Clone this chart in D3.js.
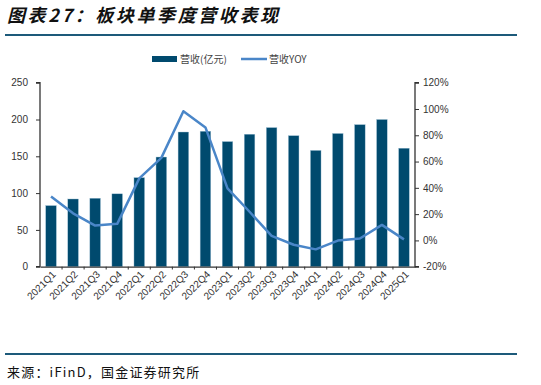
<!DOCTYPE html>
<html>
<head>
<meta charset="utf-8">
<script src="https://cdn.jsdelivr.net/npm/d3@7"></script>
<style>
  body { margin: 0; background: #fff; }
  text { font-family: "Liberation Sans", Arial, sans-serif; }
  .cjk { font-family: "Noto Sans CJK SC", sans-serif; }
</style>
</head>
<body>
<script>
// quarters on the x axis
var quarters = ['2021Q1','2021Q2','2021Q3','2021Q4','2022Q1','2022Q2','2022Q3','2022Q4',
  '2023Q1','2023Q2','2023Q3','2023Q4','2024Q1','2024Q2','2024Q3','2024Q4','2025Q1'];
// revenue, 100 million yuan
var revenue = [83, 92, 93, 99, 121, 149, 183, 184, 170, 180, 189, 178, 158, 181, 193, 200, 161];
// revenue YOY, %
var yoy = [33.5, 20.6, 11.3, 12.6, 47.2, 62.8, 98.3, 86, 39.6, 21.8, 3.5, -3.3, -6.8, -0.1, 1.5, 11.8, 0.8];
var leftTicks = [0, 50, 100, 150, 200, 250];
var rightTicks = [-20, 0, 20, 40, 60, 80, 100, 120];

var barColor = '#004a6e', lineColor = '#4a86c8', ruleColor = '#1d5a7a';

var svg = d3.select('body').append('svg')
  .attr('width', 541).attr('height', 385);

// title
svg.append('text')
  .attr('class', 'cjk')
  .attr('x', 7).attr('y', 22)
  .style('font-size', '18px').style('font-weight', 'bold').style('font-style', 'italic')
  .style('letter-spacing', '2.6px')
  .attr('fill', '#111')
  .text('图表27：板块单季度营收表现');

svg.append('line').attr('x1', 5).attr('x2', 517).attr('y1', 35).attr('y2', 35)
  .attr('stroke', ruleColor).attr('stroke-width', 2);
svg.append('line').attr('x1', 5).attr('x2', 517).attr('y1', 354).attr('y2', 354)
  .attr('stroke', ruleColor).attr('stroke-width', 2);

// source
svg.append('text')
  .attr('class', 'cjk')
  .attr('x', 7).attr('y', 377)
  .style('font-size', '13px').style('letter-spacing', '1.2px')
  .attr('fill', '#111')
  .text('来源：iFinD，国金证券研究所');

// scales
var x = d3.scaleBand().domain(quarters).range([40, 415]).paddingInner(0.52).paddingOuter(0.26);
var yL = d3.scaleLinear().domain([0, 250]).range([266.7, 82.7]);
var yR = d3.scaleLinear().domain([-20, 120]).range([266.7, 82.7]);

// bars
svg.selectAll('.bar')
  .data(revenue)
  .enter()
  .append('rect')
  .attr('class', 'bar')
  .attr('x', function(d, i){ return x(quarters[i]); })
  .attr('y', function(d){ return yL(d); })
  .attr('width', x.bandwidth())
  .attr('height', function(d){ return yL(0) - yL(d); })
  .attr('fill', barColor)
  .attr('stroke', '#9fc0d6').attr('stroke-width', 0.4);

// yoy line
var line = d3.line()
  .x(function(d, i){ return x(quarters[i]) + x.bandwidth() / 2; })
  .y(function(d){ return yR(d); });
svg.append('path')
  .datum(yoy)
  .attr('d', line)
  .attr('fill', 'none')
  .attr('stroke', lineColor)
  .attr('stroke-width', 2.5)
  .attr('stroke-linejoin', 'round');

// axes
var leftAxis = svg.append('g')
  .attr('transform', 'translate(40,0)')
  .call(d3.axisLeft(yL).tickValues(leftTicks).tickSize(4).tickPadding(8));
var rightAxis = svg.append('g')
  .attr('transform', 'translate(415,0)')
  .call(d3.axisRight(yR).tickValues(rightTicks).tickSize(4).tickPadding(4)
    .tickFormat(function(d){ return d + '%'; }));

var xAxis = svg.append('g')
  .attr('transform', 'translate(0,266.7)')
  .call(d3.axisBottom(x).tickSize(0));
xAxis.selectAll('text')
  .attr('text-anchor', 'end')
  .attr('x', 0).attr('y', 0)
  .attr('dy', '0.35em')
  .attr('transform', 'translate(3,6) rotate(-45)');

// small ticks at the band edges under the x axis
svg.selectAll('.xt')
  .data(quarters.slice(1))
  .enter()
  .append('line')
  .attr('x1', function(d){ return x(d) - x.step() * x.paddingInner() / 2; })
  .attr('x2', function(d){ return x(d) - x.step() * x.paddingInner() / 2; })
  .attr('y1', 266.7).attr('y2', 269.5)
  .attr('stroke', '#333');

[leftAxis, rightAxis, xAxis].forEach(function(g){
  g.select('.domain').attr('stroke', '#333').attr('stroke-width', 1.3);
  g.selectAll('.tick line').attr('stroke', '#333');
  g.selectAll('text').attr('fill', '#333').style('font-size', '10px')
    .style('font-family', '"Liberation Sans", Arial, sans-serif');
});
leftAxis.select('.domain').attr('d', 'M-4,82.7H0V266.7H-4');
rightAxis.select('.domain').attr('d', 'M4,82.7H0V266.7H4');

// legend
var legend = svg.append('g');
legend.append('rect').attr('x', 152).attr('y', 56).attr('width', 25).attr('height', 6).attr('fill', barColor);
legend.append('text').attr('class', 'cjk').attr('x', 180).attr('y', 63)
  .style('font-size', '10px').attr('fill', '#444').text('营收(亿元)');
legend.append('line').attr('x1', 241).attr('x2', 267).attr('y1', 59).attr('y2', 59)
  .attr('stroke', lineColor).attr('stroke-width', 2.5);
legend.append('text').attr('class', 'cjk').attr('x', 269).attr('y', 63)
  .style('font-size', '10px').attr('fill', '#444').text('营收YOY');
</script>
</body>
</html>
